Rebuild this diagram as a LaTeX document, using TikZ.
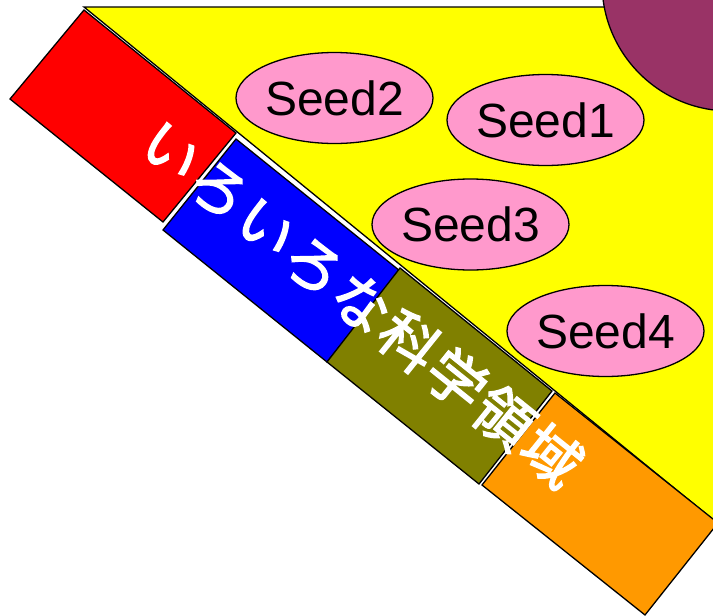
\documentclass[tikz,border=0pt]{standalone}
\usepackage{fontspec}
\setmainfont{Liberation Sans}
\newfontfamily\jpfont[FakeBold=2.5]{Noto Sans CJK JP}
\usetikzlibrary{shapes.geometric}
\definecolor{triyellow}{RGB}{255,255,0}
\definecolor{plum}{RGB}{153,51,102}
\definecolor{seedpink}{RGB}{255,153,204}
\definecolor{boxred}{RGB}{255,0,0}
\definecolor{boxblue}{RGB}{0,0,255}
\definecolor{boxolive}{RGB}{128,128,0}
\definecolor{boxorange}{RGB}{255,153,0}
\tikzset{
  outline/.style={draw=black, line width=1.3pt, line join=miter},
  seed/.style={ellipse, outline, fill=seedpink, minimum width=197pt, minimum height=91pt, inner sep=0pt, font=\fontsize{48}{48}\selectfont},
  bandtext/.style={text=white, inner sep=0pt, rotate=-38.8, font=\jpfont\fontsize{58}{58}\selectfont\addfontfeature{LetterSpace=5}}
}
\begin{document}
\begin{tikzpicture}[x=1pt,y=-1pt]
\useasboundingbox (0,0) rectangle (713,616);
\clip (0,0) rectangle (713,616);
% yellow triangle
\draw[outline, fill=triyellow] (84,7) -- (760,7) -- (760,558) -- cycle;
% plum circle
\draw[outline, fill=plum] (730,-17) circle[radius=128];
% seeds
\node[seed] (s2) at (334.5,98) {Seed2};
\node[seed] (s1) at (545.5,120) {Seed1};
\node[seed] (s3) at (470.5,224.5) {Seed3};
\node[seed] (s4) at (605.5,331) {Seed4};
% band of boxes
\draw[outline, fill=boxred] (84,10) -- (236,133) -- (163,222) -- (10,99) -- cycle;
\draw[outline, fill=boxblue] (236,139) -- (400,271) -- (327,362) -- (163,230) -- cycle;
\draw[outline, fill=boxolive] (400,268) -- (552,391) -- (479,484) -- (327,362) -- cycle;
\draw[outline, fill=boxorange] (555,393) -- (718,523) -- (645,615) -- (482,485) -- cycle;
% text
\node[bandtext] (band) at (362,303) {いろいろな科学領域};
\end{tikzpicture}
\end{document}
